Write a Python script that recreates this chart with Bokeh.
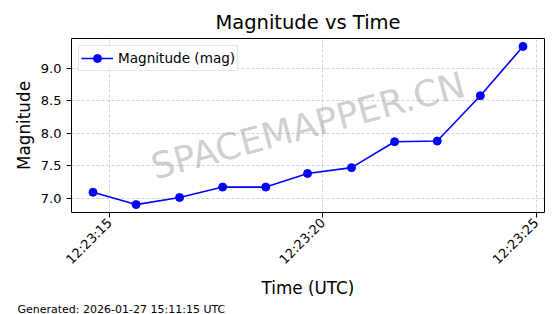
import math
from datetime import datetime, timedelta
from bokeh.plotting import figure
from bokeh.models import (ColumnDataSource, FixedTicker, DatetimeTickFormatter,
                          Label, Range1d, PrintfTickFormatter, Title)
from bokeh.embed import file_html
from bokeh.resources import INLINE

# ---- data ----
base_time = datetime(2026, 1, 27, 12, 23, 0)
seconds = [14.61, 15.62, 16.64, 17.65, 18.66, 19.64, 20.67, 21.68, 22.68, 23.69, 24.69]
magnitude = [7.09, 6.90, 7.01, 7.17, 7.17, 7.38, 7.47, 7.87, 7.88, 8.58, 9.34]
x_tick_seconds = [15, 20, 25]
y_ticks = [7.0, 7.5, 8.0, 8.5, 9.0]
title_text = "Magnitude vs Time"
series_label = "Magnitude (mag)"
x_label = "Time (UTC)"
y_label = "Magnitude"
footer_text = "Generated: 2026-01-27 15:11:15 UTC"
watermark_text = "SPACEMAPPER.CN"

EPOCH = datetime(1970, 1, 1)


def to_ms(dt):
    return (dt - EPOCH).total_seconds() * 1000.0


times = [base_time + timedelta(seconds=s) for s in seconds]
t_ms = [to_ms(t) for t in times]
x_ticks_ms = [to_ms(base_time + timedelta(seconds=s)) for s in x_tick_seconds]

xmin, xmax = min(t_ms), max(t_ms)
xpad = 0.05 * (xmax - xmin)
ymin, ymax = min(magnitude), max(magnitude)
ypad = 0.05 * (ymax - ymin)

src = ColumnDataSource(dict(t=times, m=magnitude))

FONT = "DejaVu Sans"

p = figure(width=560, height=314, x_axis_type="datetime",
           output_backend="svg", toolbar_location=None,
           x_range=Range1d(xmin - xpad, xmax + xpad),
           y_range=Range1d(ymin - ypad, ymax + ypad),
           min_border_left=71, min_border_right=16,
           min_border_top=38, min_border_bottom=0)

p.title.text = title_text
p.title.align = "center"
p.title.text_font = FONT
p.title.text_font_size = "19.5px"
p.title.text_font_style = "normal"
p.title.text_color = "black"

p.background_fill_color = "white"
p.border_fill_color = "white"
p.outline_line_color = "black"
p.outline_line_width = 1
p.outline_line_alpha = 1

# watermark (beneath the data)
p.add_layout(Label(x=(xmin + xmax) / 2, y=(ymin + ymax) / 2 + 0.0,
                   text=watermark_text, text_align="center",
                   text_baseline="middle", angle=15, angle_units="deg",
                   text_font=FONT, text_font_size="36px",
                   text_color="#808080", text_alpha=0.4, level="underlay"))

p.line("t", "m", source=src, line_color="#0000ff", line_width=1.6,
       legend_label=series_label)
p.scatter("t", "m", source=src, size=8, fill_color="#0000ff",
          line_color="#0000ff", legend_label=series_label)

# axes
p.xaxis.ticker = FixedTicker(ticks=x_ticks_ms)
p.xaxis.formatter = DatetimeTickFormatter(seconds="%H:%M:%S", minsec="%H:%M:%S",
                                          milliseconds="%H:%M:%S", minutes="%H:%M:%S")
p.xaxis.major_label_orientation = math.pi / 4
p.yaxis.ticker = FixedTicker(ticks=y_ticks)
p.yaxis.formatter = PrintfTickFormatter(format="%.1f")

for ax in (p.xaxis[0], p.yaxis[0]):
    ax.axis_line_color = None
    ax.major_tick_line_color = "black"
    ax.major_tick_in = 0
    ax.major_tick_out = 5
    ax.minor_tick_line_color = None
    ax.major_label_text_font = FONT
    ax.major_label_text_font_size = "13px"
    ax.major_label_text_color = "black"
    ax.axis_label_text_font = FONT
    ax.axis_label_text_font_size = "16.8px"
    ax.axis_label_text_font_style = "normal"
    ax.axis_label_text_color = "black"

p.xaxis.axis_label = x_label
p.yaxis.axis_label = y_label
p.yaxis.axis_label_standoff = 4
p.xaxis.major_label_standoff = 3
p.xaxis.axis_label_standoff = 3

p.xgrid.grid_line_color = "#b0b0b0"
p.ygrid.grid_line_color = "#b0b0b0"
p.xgrid.grid_line_alpha = 0.7
p.ygrid.grid_line_alpha = 0.7
p.xgrid.grid_line_dash = "3 2"
p.ygrid.grid_line_dash = "3 2"
p.xgrid.grid_line_width = 0.8
p.ygrid.grid_line_width = 0.8

# legend
lg = p.legend[0]
lg.location = "top_left"
lg.margin = 7
lg.padding = 2
lg.spacing = 0
lg.label_text_font = FONT
lg.label_text_font_size = "13.6px"
lg.label_text_color = "black"
lg.glyph_width = 32
lg.glyph_height = 20
lg.border_line_color = "#cccccc"
lg.border_line_width = 1
lg.background_fill_alpha = 0.8

# footer
p.add_layout(Title(text=footer_text, align="left", offset=-54, standoff=-2,
                   text_font=FONT, text_font_size="11px",
                   text_font_style="normal", text_color="black"), "below")

open("out.html", "w").write(file_html(p, INLINE))
